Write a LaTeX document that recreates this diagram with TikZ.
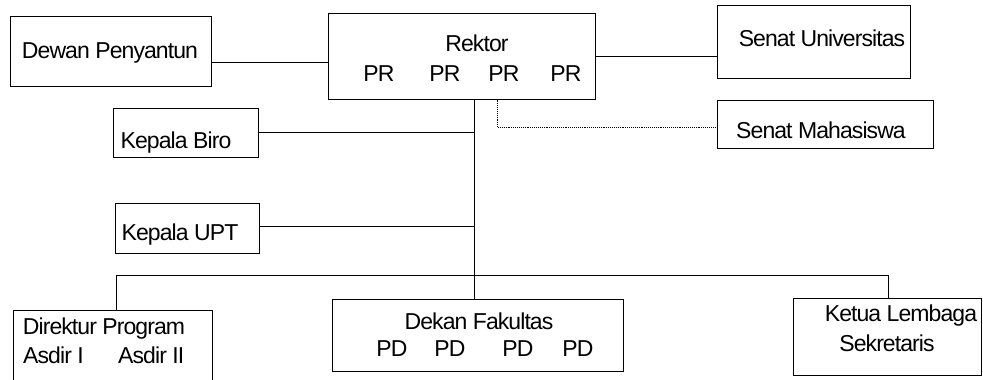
\documentclass[tikz,border=0pt]{standalone}
\usepackage{fontspec}
\setmainfont{Liberation Sans}
\newfontfamily\lblfont{Liberation Sans}[LetterSpace=-4]
\begin{document}
\begin{tikzpicture}[x=1pt,y=-1pt,
  box/.style={draw,line width=1pt,rectangle,inner sep=0pt},
  lbl/.style={inner sep=0pt,anchor=base,font=\lblfont\fontsize{23}{26}\selectfont},
  conn/.style={line width=1pt},
  dotconn/.style={line width=0.9pt,densely dotted}]
\useasboundingbox (0,0) rectangle (983,380);
% boxes
\node[box,minimum width=201pt,minimum height=70pt] (dewan) at (110.5,51) {};
\node[box,minimum width=267pt,minimum height=86pt] (rektor) at (461.5,56) {};
\node[box,minimum width=193pt,minimum height=73pt] (senatU) at (813.5,41.5) {};
\node[box,minimum width=216pt,minimum height=48pt] (senatM) at (825,124) {};
\node[box,minimum width=145pt,minimum height=49pt] (biro) at (185.5,132.5) {};
\node[box,minimum width=144pt,minimum height=50pt] (upt) at (187,228) {};
\node[box,minimum width=199pt,minimum height=90pt] (direktur) at (112.5,355) {};
\node[box,minimum width=291pt,minimum height=72pt] (dekan) at (477.5,335) {};
\node[box,minimum width=188pt,minimum height=77pt] (ketua) at (887,336.5) {};
% texts
\node[lbl] (tDewan) at (110,58) {Dewan Penyantun};
\node[lbl] (tRektor) at (477,51) {Rektor};
\node[lbl] (pr1) at (379,81) {PR};
\node[lbl] (pr2) at (445,81) {PR};
\node[lbl] (pr3) at (504,81) {PR};
\node[lbl] (pr4) at (566,81) {PR};
\node[lbl] (tSenatU) at (822,46) {Senat Universitas};
\node[lbl] (tSenatM) at (821,138) {Senat Mahasiswa};
\node[lbl] (tBiro) at (176,148) {Kepala Biro};
\node[lbl] (tUpt) at (180,240) {Kepala UPT};
\node[lbl] (tDir) at (104,334) {Direktur Program};
\node[lbl,anchor=base west] (tAs1) at (23,363) {Asdir I};
\node[lbl,anchor=base west] (tAs2) at (118,363) {Asdir II};
\node[lbl] (tDekan) at (479,329) {Dekan Fakultas};
\node[lbl] (pd1) at (392,356) {PD};
\node[lbl] (pd2) at (450,356) {PD};
\node[lbl] (pd3) at (518,356) {PD};
\node[lbl] (pd4) at (578,356) {PD};
\node[lbl] (tKetua) at (901,321) {Ketua Lembaga};
\node[lbl] (tSek) at (887,351) {Sekretaris};
% junction coordinates
\coordinate (jBiro) at (474,132);
\coordinate (jUpt) at (474,226);
\coordinate (jBus) at (474,275);
\coordinate (busL) at (116,275);
\coordinate (busR) at (888,275);
\coordinate (dotTurn) at (497,127);
% connectors
\draw[conn] (dewan.east |- 0,62) -- (rektor.west |- 0,62);
\draw[conn] (rektor.east |- 0,56) -- (senatU.west |- 0,56);
\draw[conn] (rektor.south -| jBus) -- (dekan.north -| jBus);
\draw[conn] (biro.east |- jBiro) -- (jBiro);
\draw[conn] (upt.east |- jUpt) -- (jUpt);
\draw[conn] (direktur.north -| busL) -- (busL) -- (busR) -- (ketua.north -| busR);
\draw[dotconn] (rektor.south -| dotTurn) -- (dotTurn) -- (senatM.west |- dotTurn);
\end{tikzpicture}
\end{document}
